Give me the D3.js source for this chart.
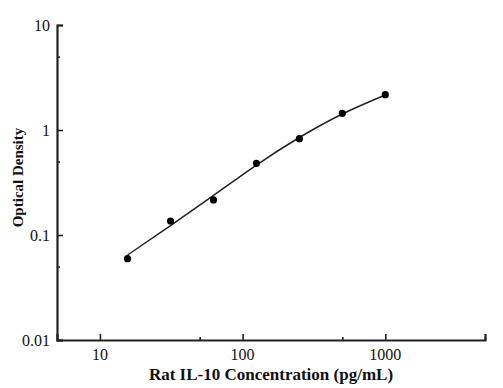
<!DOCTYPE html>
<html>
<head>
<meta charset="utf-8">
<script src="https://cdn.jsdelivr.net/npm/d3@7"></script>
<style>
    body { margin: 0; background: #fff; }
    text { font-family: "Liberation Serif", "Times New Roman", serif; fill: #111; }
</style>
</head>
<body>
<div id="chart"></div>
<script>
"use strict";

// Standards (pg/mL) and measured optical density
const concentrations = [15.625, 31.25, 62.5, 125, 250, 500, 1000];
const densities = [0.0595, 0.136, 0.216, 0.482, 0.826, 1.443, 2.17];

// Fitted curve
const fitConc = [15.625, 31.25, 62.5, 125, 250, 500, 1000];
const fitDensity = [0.0645, 0.123, 0.238, 0.464, 0.848, 1.42, 2.154];

const xTicks = [10, 100, 1000];
const xMinor = [50, 500, 5000];
const yTicks = [0.01, 0.1, 1, 10];
const yMinor = [0.05, 0.5, 5];

const xTitle = "Rat IL-10 Concentration (pg/mL)";
const yTitle = "Optical Density";


/*
 * ============================================================================
 * Plot
 * ============================================================================
 */

function Plot(target) {
    const W = 503, H = 388;
    const LEFT = 57, RIGHT = 485, TOP = 25, BOTTOM = 340;

    this.svg = d3.select(target)
      .append("svg")
        .attr("width", W)
        .attr("height", H);

    this.x = d3.scaleLog().domain([5, 5000]).range([LEFT, RIGHT]);
    this.y = d3.scaleLog().domain([0.01, 10]).range([BOTTOM, TOP]);

    // Major ticks point inward, minor ticks are shorter
    const xaxis = this.svg.append("g")
        .attr("transform", `translate(0,${BOTTOM})`)
        .call(d3.axisTop(this.x).tickValues(xTicks).tickSize(6).tickFormat(""));
    this.svg.append("g")
        .attr("transform", `translate(0,${BOTTOM})`)
        .call(d3.axisTop(this.x).tickValues(xMinor).tickSize(3).tickFormat(""))
        .select(".domain").remove();

    const yaxis = this.svg.append("g")
        .attr("transform", `translate(${LEFT},0)`)
        .call(d3.axisRight(this.y).tickValues(yTicks).tickSize(6).tickFormat(""));
    this.svg.append("g")
        .attr("transform", `translate(${LEFT},0)`)
        .call(d3.axisRight(this.y).tickValues(yMinor).tickSize(3).tickFormat(""))
        .select(".domain").remove();

    this.svg.selectAll(".domain, .tick line")
        .attr("stroke", "#222")
        .attr("stroke-width", 1.6);
    xaxis.select(".domain").attr("stroke-width", 2.2);
    yaxis.select(".domain").attr("stroke-width", 2.2);

    // Tick labels
    this.svg.append("g").selectAll("text")
        .data(xTicks)
      .join("text")
        .attr("x", d => this.x(d))
        .attr("y", BOTTOM + 20)
        .attr("text-anchor", "middle")
        .attr("font-size", 16)
        .text(d => d);

    this.svg.append("g").selectAll("text")
        .data(yTicks)
      .join("text")
        .attr("x", LEFT - 7)
        .attr("y", d => this.y(d))
        .attr("dy", "0.35em")
        .attr("text-anchor", "end")
        .attr("font-size", 16)
        .text(d => d);

    // Titles
    this.svg.append("text")
        .attr("x", (LEFT + RIGHT) / 2)
        .attr("y", 380)
        .attr("text-anchor", "middle")
        .attr("font-size", 17)
        .attr("font-weight", "bold")
        .text(xTitle);

    this.svg.append("text")
        .attr("transform", `translate(23,${(TOP + BOTTOM) / 2 - 5}) rotate(-90)`)
        .attr("text-anchor", "middle")
        .attr("font-size", 15)
        .attr("font-weight", "bold")
        .text(yTitle);
}

Plot.prototype.draw = function() {
    const fit = fitConc.map((c, i) => [c, fitDensity[i]]);
    const line = d3.line()
        .x(d => this.x(d[0]))
        .y(d => this.y(d[1]))
        .curve(d3.curveNatural);

    this.svg.append("path")
        .datum(fit)
        .attr("fill", "none")
        .attr("stroke", "#222")
        .attr("stroke-width", 1.5)
        .attr("d", line);

    this.svg.append("g").selectAll("circle")
        .data(concentrations)
      .join("circle")
        .attr("cx", d => this.x(d))
        .attr("cy", (d, i) => this.y(densities[i]))
        .attr("r", 3.6)
        .attr("fill", "#000");
}


/*
 * ============================================================================
 * Orchestration
 * ============================================================================
 */

const plot = new Plot(document.getElementById("chart"));
plot.draw();
</script>
</body>
</html>
